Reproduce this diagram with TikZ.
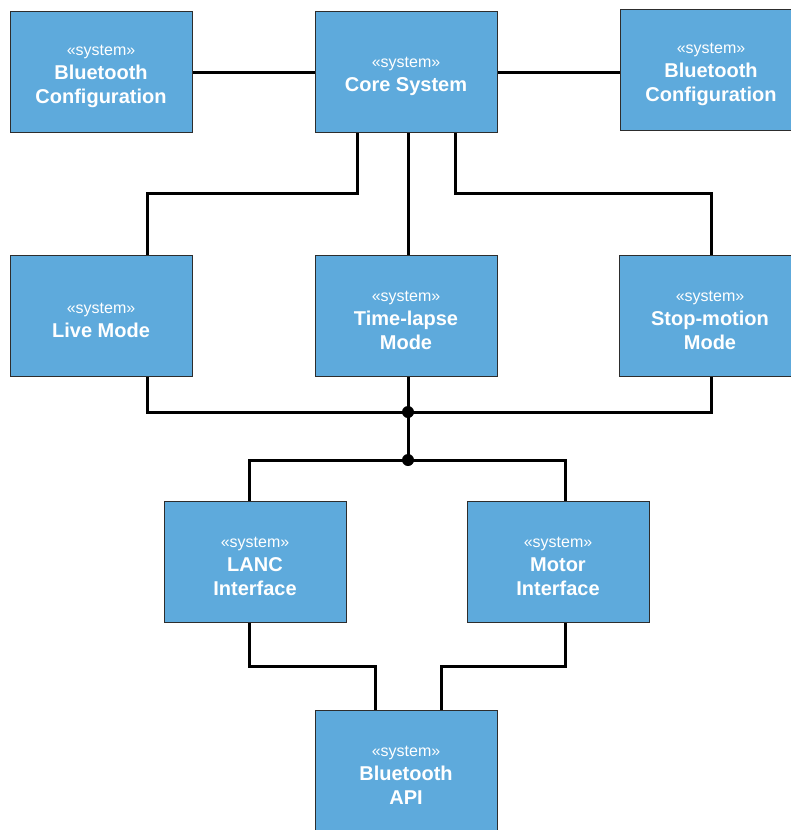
\documentclass[tikz,border=0pt]{standalone}
\usepackage{fontspec}
\setmainfont{Liberation Sans}
\usetikzlibrary{positioning}
\definecolor{sysblue}{RGB}{94,170,220}
\definecolor{sysedge}{RGB}{45,45,45}
\newcommand{\systag}{{\fontsize{16}{24}\selectfont\mdseries\rule{0pt}{19.5pt}\guillemotleft system\guillemotright}}

\begin{document}
\begin{tikzpicture}[
    x=1pt, y=-1pt,
    sysbox/.style={
        rectangle,
        minimum width=182pt,
        minimum height=121pt,
        fill=sysblue, draw=sysedge, line width=1pt,
        align=center, text=white, inner sep=0pt,
        font=\fontsize{20}{24}\selectfont\bfseries
    },
    link/.style={line width=3pt},
    joint/.style={circle, fill=black, inner sep=0pt, minimum size=12pt},
    node distance=122pt and 122pt
]
\useasboundingbox (0,0) rectangle (790,830);

% --- top row ---
\node[sysbox] (core) at (406,72) {\systag\\Core System};
\node[sysbox, left=of core] (btleft) {\systag\\Bluetooth\\Configuration};
\node[sysbox, right=of core, yshift=2pt] (btright) {\systag\\Bluetooth\\Configuration};

% --- modes ---
\node[sysbox, below=of btleft] (live) {\systag\\Live Mode};
\node[sysbox, below=of core] (timelapse) {\systag\\Time-lapse\\Mode};
\node[sysbox, below=of core, xshift=304pt] (stop) {\systag\\Stop-motion\\Mode};

% --- interfaces ---
\node[sysbox] (lanc) at (255,562) {\systag\\LANC\\Interface};
\node[sysbox] (motor) at (558,562) {\systag\\Motor\\Interface};
\node[sysbox] (api) at (406,771) {\systag\\Bluetooth\\API};

\coordinate (upper) at (408,412);
\coordinate (lower) at (408,460);

% --- connectors ---
\draw[link] (btleft) -- (core);
\draw[link] (core.east) -- (core.east -| btright.west);
\draw[link] ([xshift=-49pt]core.south) -- ++(0,60) -| ([xshift=46pt]live.north);
\draw[link] ([xshift=2pt]core.south) -- ([xshift=2pt]timelapse.north);
\draw[link] ([xshift=49pt]core.south) -- ++(0,60) -| ([xshift=1pt]stop.north);

\draw[link] ([xshift=46pt]live.south) |- (upper) -| ([xshift=1pt]stop.south);
\draw[link] ([xshift=2pt]timelapse.south) -- (lower);
\draw[link] ([xshift=-6pt]lanc.north) |- (lower) -| ([xshift=7pt]motor.north);

\draw[link] ([xshift=-6pt]lanc.south) -- ++(0,43) -| ([xshift=-31pt]api.north);
\draw[link] ([xshift=7pt]motor.south) -- ++(0,43) -| ([xshift=35pt]api.north);

\node[joint] (upperdot) at (upper) {};
\node[joint] (lowerdot) at (lower) {};

\end{tikzpicture}
\end{document}
